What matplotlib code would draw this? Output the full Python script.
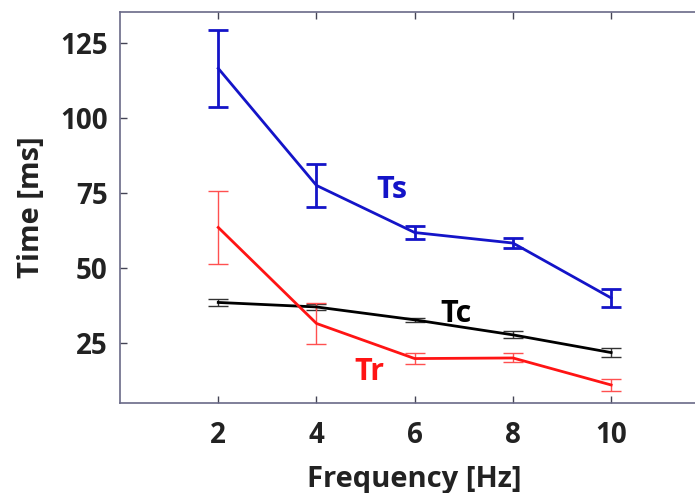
import matplotlib.pyplot as plt

plt.rcParams['font.family'] = ['Open Sans', 'DejaVu Sans']

freq = [2, 4, 6, 8, 10]

ts_mean = [116.5, 77.5, 61.8, 58.3, 40.0]
ts_err = [12.7, 7.3, 2.2, 1.8, 3.0]

tc_mean = [38.5, 37.0, 32.7, 27.7, 21.8]
tc_err = [1.3, 1.0, 0.6, 1.2, 1.5]

tr_mean = [63.5, 31.5, 19.8, 20.0, 11.0]
tr_err = [12.2, 6.8, 1.7, 1.5, 2.0]

fig = plt.figure(figsize=(6.95, 4.93), dpi=100)
ax = fig.add_axes([0.1727, 0.1826, 0.848, 0.7931])

blue = '#1414c8'
red = '#ff1414'

ax.errorbar(freq, ts_mean, yerr=ts_err, color=blue, lw=2, elinewidth=2,
            capsize=7, capthick=2)
ax.errorbar(freq, tc_mean, yerr=tc_err, color='black', lw=2,
            ecolor='#333333', elinewidth=1, capsize=7, capthick=1)
ax.errorbar(freq, tr_mean, yerr=tr_err, color=red, lw=2,
            ecolor='#ff5050', elinewidth=1, capsize=7, capthick=1)

# series labels placed next to the lines
ax.text(5.53, 73.3, 'Ts', color=blue, fontsize=22, fontweight='bold',
        ha='center', va='baseline')
ax.text(6.85, 32.0, 'Tc', color='black', fontsize=22, fontweight='bold',
        ha='center', va='baseline')
ax.text(5.07, 12.7, 'Tr', color=red, fontsize=22, fontweight='bold',
        ha='center', va='baseline')

ax.set_xlim(0, 12)
ax.set_ylim(5, 135.3)
ax.set_xticks(freq)
ax.set_yticks([25, 50, 75, 100, 125])
ax.tick_params(direction='in', top=True, right=True, length=5, width=1,
               colors='#444455', labelsize=20)
ax.tick_params(axis='x', pad=13)
ax.tick_params(axis='y', pad=9)
for lab in ax.get_xticklabels() + ax.get_yticklabels():
    lab.set_fontweight('bold')
    lab.set_color('#222222')
for sp in ax.spines.values():
    sp.set_color('#6a6a88')
    sp.set_linewidth(1.2)

ax.set_xlabel('Frequency [Hz]', fontsize=21, fontweight='bold',
              color='#222222', labelpad=11)
ax.set_ylabel('Time [ms]', fontsize=21, fontweight='bold',
              color='#222222', labelpad=10)

fig.savefig('out.png', dpi=100)
